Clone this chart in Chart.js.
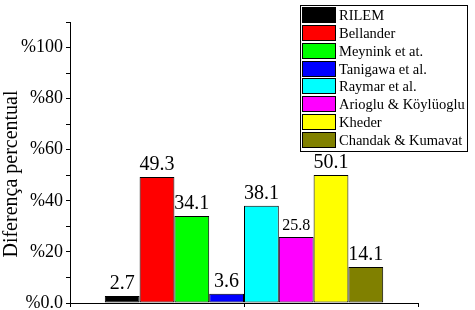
<!DOCTYPE html>
<html><head><meta charset="utf-8">
<script src="https://cdn.jsdelivr.net/npm/chart.js"></script>
<style>html,body{margin:0;padding:0;background:#fff}#wrap{width:475px;height:310px}</style>
</head><body><div id="wrap"><canvas id="c" width="475" height="310"></canvas></div>
<script>
const categories = [''];
const seriesNames = ['RILEM','Bellander','Meynink et at.','Tanigawa et al.','Raymar et al.','Arioglu & Köylüoglu','Kheder','Chandak & Kumavat'];
const seriesValues = [2.7, 49.3, 34.1, 3.6, 38.1, 25.8, 50.1, 14.1];
const seriesColors = ['#000000','#ff0000','#00ff00','#0000ff','#00ffff','#ff00ff','#ffff00','#808000'];
const yTickValues = [0, 20, 40, 60, 80, 100];
const yTickLabels = ['%0.0', '%20', '%40', '%60', '%80', '%100'];
const yTitle = 'Diferença percentual';

const FONT = "'Liberation Serif', 'Times New Roman', serif";
const labelFontSizes = [20, 20, 20, 20, 20, 16, 20, 20];

const valueLabels = {
  id: 'valueLabels',
  afterDatasetsDraw(chart) {
    const ctx = chart.ctx;
    ctx.save();
    ctx.fillStyle = '#000';
    ctx.textAlign = 'center';
    ctx.textBaseline = 'alphabetic';
    chart.data.datasets.forEach((ds, i) => {
      const el = chart.getDatasetMeta(i).data[0];
      ctx.font = labelFontSizes[i] + 'px ' + FONT;
      ctx.fillText(String(ds.data[0]), el.x, el.y - 7);
    });
    ctx.restore();
  }
};

const extraDraw = {
  id: 'extraDraw',
  afterDraw(chart) {
    const ctx = chart.ctx;
    const xs = chart.scales.x;
    ctx.save();
    ctx.strokeStyle = '#000';
    ctx.lineWidth = 1;
    const cx = Math.round(xs.getPixelForValue(0)) + 0.5;
    ctx.beginPath();
    ctx.moveTo(cx, xs.top);
    ctx.lineTo(cx, xs.top + 4);
    ctx.stroke();
    ctx.fillStyle = '#000';
    ctx.font = '20px ' + FONT;
    ctx.textAlign = 'center';
    ctx.textBaseline = 'middle';
    ctx.translate(12, 174);
    ctx.rotate(-Math.PI / 2);
    ctx.fillText(yTitle, 0, 0);
    ctx.restore();

    ctx.save();
    const bx = 300.5, by = 5.5, bw = 167, bh = 146;
    ctx.fillStyle = '#fff';
    ctx.fillRect(bx, by, bw, bh);
    ctx.strokeStyle = '#000';
    ctx.lineWidth = 1;
    ctx.strokeRect(bx, by, bw, bh);
    ctx.font = '14.5px ' + FONT;
    ctx.textAlign = 'left';
    ctx.textBaseline = 'alphabetic';
    chart.data.datasets.forEach((ds, i) => {
      const y0 = 7 + i * 17.85;
      ctx.fillStyle = ds.backgroundColor;
      ctx.fillRect(302.5, Math.round(y0) + 0.5, 33, 15);
      ctx.strokeStyle = '#000';
      ctx.strokeRect(302.5, Math.round(y0) + 0.5, 33, 15);
      ctx.fillStyle = '#000';
      ctx.fillText(ds.label, 339, y0 + 13);
    });
    ctx.restore();
  }
};

new Chart(document.getElementById('c'), {
  type: 'bar',
  data: {
    labels: categories,
    datasets: seriesNames.map((n, i) => ({
      label: n,
      data: [seriesValues[i]],
      backgroundColor: seriesColors[i],
      borderColor: '#000',
      borderWidth: 1,
      borderSkipped: false,
      categoryPercentage: 0.8,
      barPercentage: 1.0
    }))
  },
  options: {
    responsive: false,
    devicePixelRatio: 1,
    animation: false,
    layout: { padding: { top: 22, right: 57, left: 0, bottom: 0 } },
    plugins: { legend: { display: false }, tooltip: { enabled: false }, title: { display: false } },
    scales: {
      x: {
        type: 'category',
        offset: true,
        grid: { offset: true, drawOnChartArea: false, drawTicks: true, tickLength: 4, color: '#000', lineWidth: 1 },
        border: { display: true, color: '#000', width: 1 },
        ticks: { display: false },
        afterFit(s) { s.height = 7; s.paddingLeft = 0; s.paddingRight = 0; s.paddingTop = 0; s.paddingBottom = 0; }
      },
      y: {
        min: 0,
        max: 110,
        ticks: {
          stepSize: 10,
          autoSkip: false,
          padding: 3,
          color: '#000',
          font: { family: FONT, size: 18 },
          callback(v) { const k = yTickValues.indexOf(v); return k >= 0 ? yTickLabels[k] : ''; }
        },
        grid: { drawOnChartArea: false, drawTicks: true, tickLength: 4, color: '#000', lineWidth: 1 },
        border: { display: true, color: '#000', width: 1 },
        afterFit(s) { s.width = 70; s.paddingTop = 0; s.paddingBottom = 0; s.paddingLeft = 0; s.paddingRight = 0; }
      }
    }
  },
  plugins: [valueLabels, extraDraw]
});
</script>
</body></html>
